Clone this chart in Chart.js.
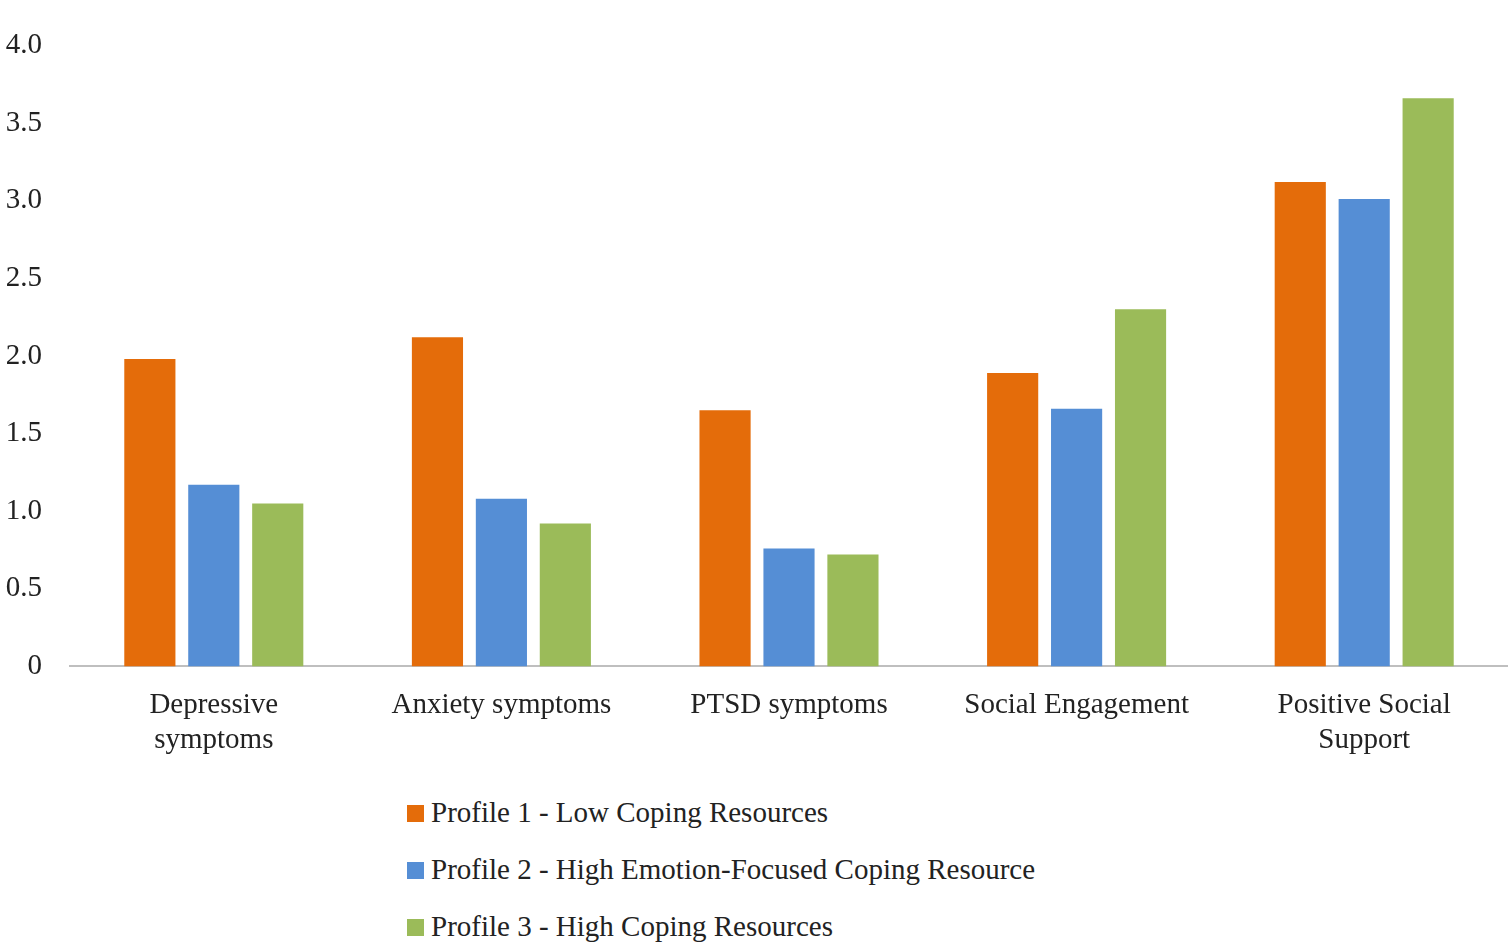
<!DOCTYPE html>
<html><head><meta charset="utf-8">
<script src="https://cdn.jsdelivr.net/npm/chart.js@4/dist/chart.umd.min.js"></script>
<style>
body{margin:0;background:#fff;width:1508px;height:950px;overflow:hidden;position:relative;font-family:"Liberation Serif",serif;}
#wrap{position:absolute;left:0;top:0;width:1508px;height:780px;}
#legend{position:absolute;left:407px;top:796px;font-size:29px;color:#222;}
#legend div{height:57px;display:flex;align-items:flex-start;}
#legend span.sw{display:inline-block;width:17px;height:17px;margin:9px 7px 0 0;}
</style></head><body>
<div id="wrap"><canvas id="c"></canvas></div>
<div id="legend"></div>
<script>
const categories = [['Depressive','symptoms'], 'Anxiety symptoms', 'PTSD symptoms', 'Social Engagement', ['Positive Social','Support']];
const seriesNames = ['Profile 1 - Low Coping Resources', 'Profile 2 - High Emotion-Focused Coping Resource', 'Profile 3 - High Coping Resources'];
const profile1 = [1.98, 2.12, 1.65, 1.89, 3.12];
const profile2 = [1.17, 1.08, 0.76, 1.66, 3.01];
const profile3 = [1.05, 0.92, 0.72, 2.30, 3.66];
const colors = ['#E46C0A', '#558ED5', '#9BBB59'];

const values = [profile1, profile2, profile3];
const legend = document.getElementById('legend');
seriesNames.forEach((n, i) => {
  const d = document.createElement('div');
  d.innerHTML = `<span class="sw" style="background:${colors[i]}"></span>${n}`;
  legend.appendChild(d);
});

new Chart(document.getElementById('c'), {
  type: 'bar',
  data: {
    labels: categories,
    datasets: values.map((v, i) => ({
      label: seriesNames[i], data: v, backgroundColor: colors[i],
      categoryPercentage: 0.667, barPercentage: 0.8
    }))
  },
  options: {
    responsive: true, maintainAspectRatio: false, animation: false,
    layout: {padding: {top: 5, right: 0, left: 0}},
    plugins: {legend: {display: false}, tooltip: {enabled: false}},
    scales: {
      x: {
        grid: {display: false, drawTicks: false},
        border: {color: '#BFBFBF', width: 2},
        ticks: {color: '#222', font: {family: 'Liberation Serif', size: 29}, padding: 22, maxRotation: 0}
      },
      y: {
        min: 0, max: 4,
        afterFit(s) { s.width = 70; },
        grid: {display: false, drawTicks: false},
        border: {display: false},
        ticks: {stepSize: 0.5, color: '#222', font: {family: 'Liberation Serif', size: 29}, padding: 28}
      }
    }
  }
});
</script>
</body></html>
